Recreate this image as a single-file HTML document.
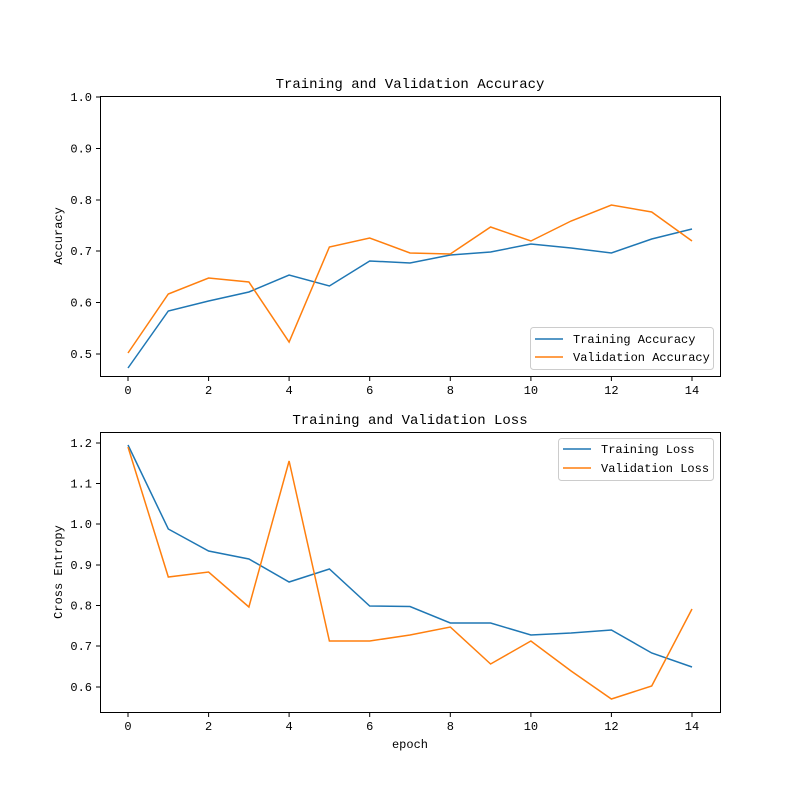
<!DOCTYPE html><html><head><style>body{margin:0;background:#fff}</style></head><body>
<svg width="800" height="800" xmlns="http://www.w3.org/2000/svg" font-family="Liberation Mono, monospace" font-size="12">
<rect width="800" height="800" fill="#fff"/>
<g fill="none" stroke-width="1.5">
<polyline stroke="#1f77b4" points="128,368 168.3,311 208.6,301 248.9,292 289.1,275 329.4,286 369.7,261 410,263 450.3,255 490.6,252 530.9,244 571.1,248 611.4,253 651.7,239 692,229"/>
<polyline stroke="#ff7f0e" points="128,353 168.3,294 208.6,278 248.9,282 289.1,342 329.4,247 369.7,238 410,253 450.3,254 490.6,227 530.9,241 571.1,221 611.4,205 651.7,212 692,241"/>
<polyline stroke="#1f77b4" points="128,445 168.3,529 208.6,551 248.9,559 289.1,582 329.4,569 369.7,606 410,606.5 450.3,623 490.6,623 530.9,635 571.1,633 611.4,630 651.7,653 692,667"/>
<polyline stroke="#ff7f0e" points="128,447 168.3,577 208.6,572 248.9,607 289.1,461 329.4,641 369.7,641 410,635 450.3,627 490.6,664 530.9,641 571.1,671 611.4,699 651.7,686 692,609"/>
</g>
<g fill="none" stroke="#000" stroke-width="1">
<rect x="100.5" y="96.5" width="620" height="280"/>
<rect x="100.5" y="432.5" width="620" height="280"/>
<path d="M128,377v4M208.6,377v4M289.1,377v4M369.7,377v4M450.3,377v4M530.9,377v4M611.4,377v4M692,377v4
M128,713v4M208.6,713v4M289.1,713v4M369.7,713v4M450.3,713v4M530.9,713v4M611.4,713v4M692,713v4
M100,97h-4M100,148.5h-4M100,200h-4M100,251h-4M100,302.5h-4M100,354h-4
M100,443h-4M100,483.5h-4M100,524h-4M100,565h-4M100,605.5h-4M100,646h-4M100,687h-4"/>
</g>
<g text-anchor="middle">
<text x="128" y="394">0</text><text x="208.6" y="394">2</text><text x="289.1" y="394">4</text><text x="369.7" y="394">6</text><text x="450.3" y="394">8</text><text x="530.9" y="394">10</text><text x="611.4" y="394">12</text><text x="692" y="394">14</text>
<text x="128" y="730">0</text><text x="208.6" y="730">2</text><text x="289.1" y="730">4</text><text x="369.7" y="730">6</text><text x="450.3" y="730">8</text><text x="530.9" y="730">10</text><text x="611.4" y="730">12</text><text x="692" y="730">14</text>
<text x="410" y="88" font-size="14">Training and Validation Accuracy</text>
<text x="410" y="424" font-size="14">Training and Validation Loss</text>
<text x="410" y="748">epoch</text>
<text transform="translate(62,236) rotate(-90)">Accuracy</text>
<text transform="translate(62,572) rotate(-90)">Cross Entropy</text>
</g>
<g text-anchor="end">
<text x="92" y="101">1.0</text><text x="92" y="152.5">0.9</text><text x="92" y="204">0.8</text><text x="92" y="255">0.7</text><text x="92" y="306.5">0.6</text><text x="92" y="358">0.5</text>
<text x="92" y="447">1.2</text><text x="92" y="487.5">1.1</text><text x="92" y="528">1.0</text><text x="92" y="569">0.9</text><text x="92" y="609.5">0.8</text><text x="92" y="650">0.7</text><text x="92" y="691">0.6</text>
</g>
<rect x="530.5" y="327.5" width="183" height="42" rx="3" fill="#fff" stroke="#ccc"/>
<path d="M535,339h28" stroke="#1f77b4" stroke-width="1.5"/><path d="M535,357h28" stroke="#ff7f0e" stroke-width="1.5"/>
<text x="573" y="343">Training Accuracy</text><text x="573" y="361">Validation Accuracy</text>
<rect x="558.5" y="438.5" width="155" height="42" rx="3" fill="#fff" stroke="#ccc"/>
<path d="M563,449h28" stroke="#1f77b4" stroke-width="1.5"/><path d="M563,468h28" stroke="#ff7f0e" stroke-width="1.5"/>
<text x="601" y="453">Training Loss</text><text x="601" y="472">Validation Loss</text>
</svg></body></html>
